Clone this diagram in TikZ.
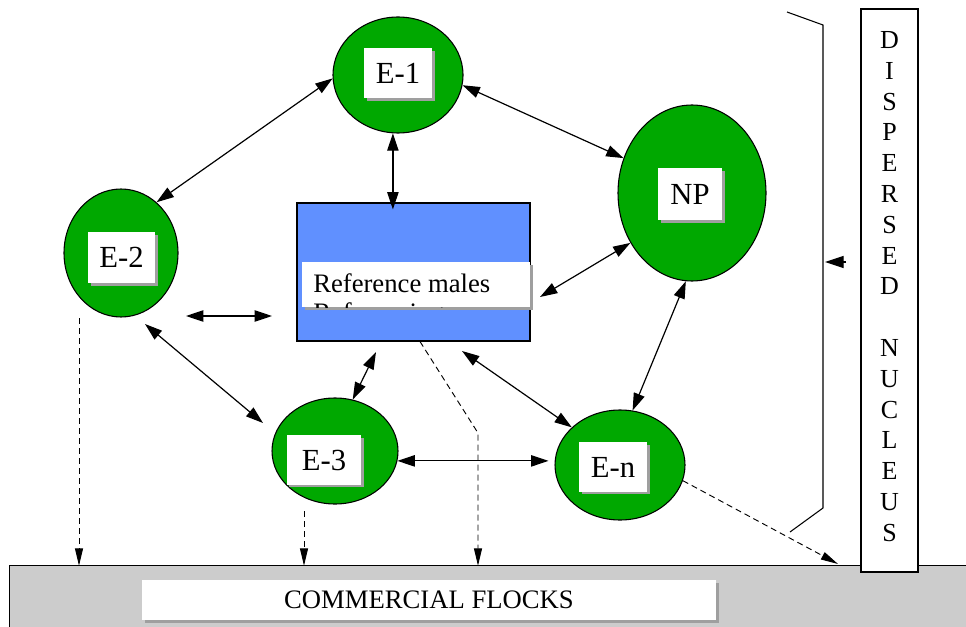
\documentclass[tikz,border=0pt]{standalone}
\usepackage{fontspec}
\setmainfont{Liberation Serif}
\usetikzlibrary{shapes.geometric,arrows.meta,shadows,calc}
\definecolor{egreen}{RGB}{0,168,0}
\definecolor{rblue}{RGB}{96,144,255}
\definecolor{ggray}{RGB}{204,204,204}
\begin{document}
\begin{tikzpicture}[x=0.75pt,y=-0.75pt,
  eg/.style={ellipse, draw=black, line width=0.8pt, fill=egreen, inner sep=0pt},
  shad/.style={drop shadow={shadow xshift=2pt,shadow yshift=-2pt,fill=gray!75,opacity=1}},
  lbl/.style={fill=white, inner sep=0pt, shad, font=\fontsize{23}{27}\selectfont},
  conn/.style={line width=0.9pt, {Triangle[length=13pt,width=8.5pt]}-{Triangle[length=13pt,width=8.5pt]}},
  dasharr/.style={line width=0.7pt, dash pattern=on 4.5pt off 3pt, -{Triangle[length=13pt,width=6pt]}},
  txt/.style={font=\fontsize{20}{24}\selectfont, inner sep=0pt}
]
\useasboundingbox (0,0) rectangle (966,627);

% bottom ground
\node[fill=ggray, minimum width=717pt, minimum height=45.75pt, inner sep=0pt] (ground) at (488,596.5) {};
\draw[line width=0.8pt] (ground.south west) -- (ground.north west) -- (ground.north east);
\node[fill=white, shad, minimum width=430.5pt, minimum height=30pt, txt] (comm) at (429,600) {COMMERCIAL FLOCKS};

% ellipses
\node[eg, minimum width=97.5pt, minimum height=87pt] (e1) at (398,75) {};
\node[lbl, minimum width=51pt, minimum height=37.5pt] (e1l) at (398,73) {E-1};
\node[eg, minimum width=111pt, minimum height=132pt] (np) at (692,193) {};
\node[lbl, minimum width=48pt, minimum height=39pt] (npl) at (690,194) {NP};
\node[eg, minimum width=85.5pt, minimum height=96pt] (e2) at (121,253) {};
\node[lbl, minimum width=50pt, minimum height=38pt] (e2l) at (121.5,257.5) {E-2};
\node[eg, minimum width=94.5pt, minimum height=79.5pt] (e3) at (335,451) {};
\node[lbl, minimum width=56pt, minimum height=37pt] (e3l) at (324,460) {E-3};
\node[eg, minimum width=97.5pt, minimum height=82.5pt] (en) at (620,465) {};
\node[lbl, minimum width=51pt, minimum height=37pt] (enl) at (613,467) {E-n};

% central rectangle
\node[draw, line width=0.8pt, fill=rblue, minimum width=174.75pt, minimum height=103.5pt, inner sep=0pt] (rect) at (413.5,272) {};
\node[fill=white, shad, minimum width=171pt, minimum height=33.75pt, inner sep=0pt] (refbox) at (416,284.5) {};
\begin{scope}
  \clip (refbox.south west) rectangle (refbox.north east);
  \node[txt, anchor=base west] (reft1) at (313,292) {Reference males};
  \node[txt, anchor=base west] (reft2) at (313,321) {Referencing};
\end{scope}

% dispersed nucleus
\node[draw, line width=1pt, fill=white, minimum width=42.75pt, minimum height=422.25pt, inner sep=0pt] (dn) at (889.5,290.5) {};
\node[align=center, inner sep=0pt, font=\fontsize{19.5}{23.1}\selectfont] (dnt) at (889.5,286.5)
  {D\\I\\S\\P\\E\\R\\S\\E\\D\\[23.1pt]N\\U\\C\\L\\E\\U\\S};

% brace
\draw[line width=0.8pt] (787,12) -- (823,25) -- (823,508) -- (790,532);
\coordinate (bt) at (846,262);
\coordinate (bh) at (825,262);
\draw[line width=0.8pt, -{Triangle[length=14pt,width=9pt]}] (bt) -- (bh);

% solid connectors
\draw[conn] (e1.183) -- (e2.55);
\draw[conn] (e1.351) -- (np.153);
\draw[conn] (e1.265) -- ($(e1.265 |- rect.north)+(0,7)$);
\coordinate (h1) at (186,316);
\coordinate (h2) at (272,316);
\draw[conn] (h1) -- (h2);
\coordinate (r1) at (540,297);
\draw[conn] (r1) -- (np.219);
\coordinate (e2b) at (145,324);
\coordinate (e3a) at (263,423);
\draw[conn] (e2b) -- (e3a);
\coordinate (r2) at (376,352);
\draw[conn] (r2) -- (e3.71);
\coordinate (r3) at (462,351);
\draw[conn] (r3) -- (en.142);
\draw[conn] (np.266) -- (en.77);
\draw[conn] (e3.351) -- ($(e3.351 -| en.west)+(-6,0)$);

% dashed connectors
\coordinate (d1) at (79,318);
\draw[dasharr] (d1) -- (d1 |- ground.north);
\coordinate (d3) at (304,511);
\draw[dasharr] (d3) -- (d3 |- ground.north);
\coordinate (dbend) at (478,433);
\draw[dasharr] ($(rect.south)+(6.5,0)$) -- (dbend) -- (dbend |- ground.north);
\coordinate (dend) at (838,564);
\draw[dasharr] (en.346) -- (dend);
\end{tikzpicture}
\end{document}
